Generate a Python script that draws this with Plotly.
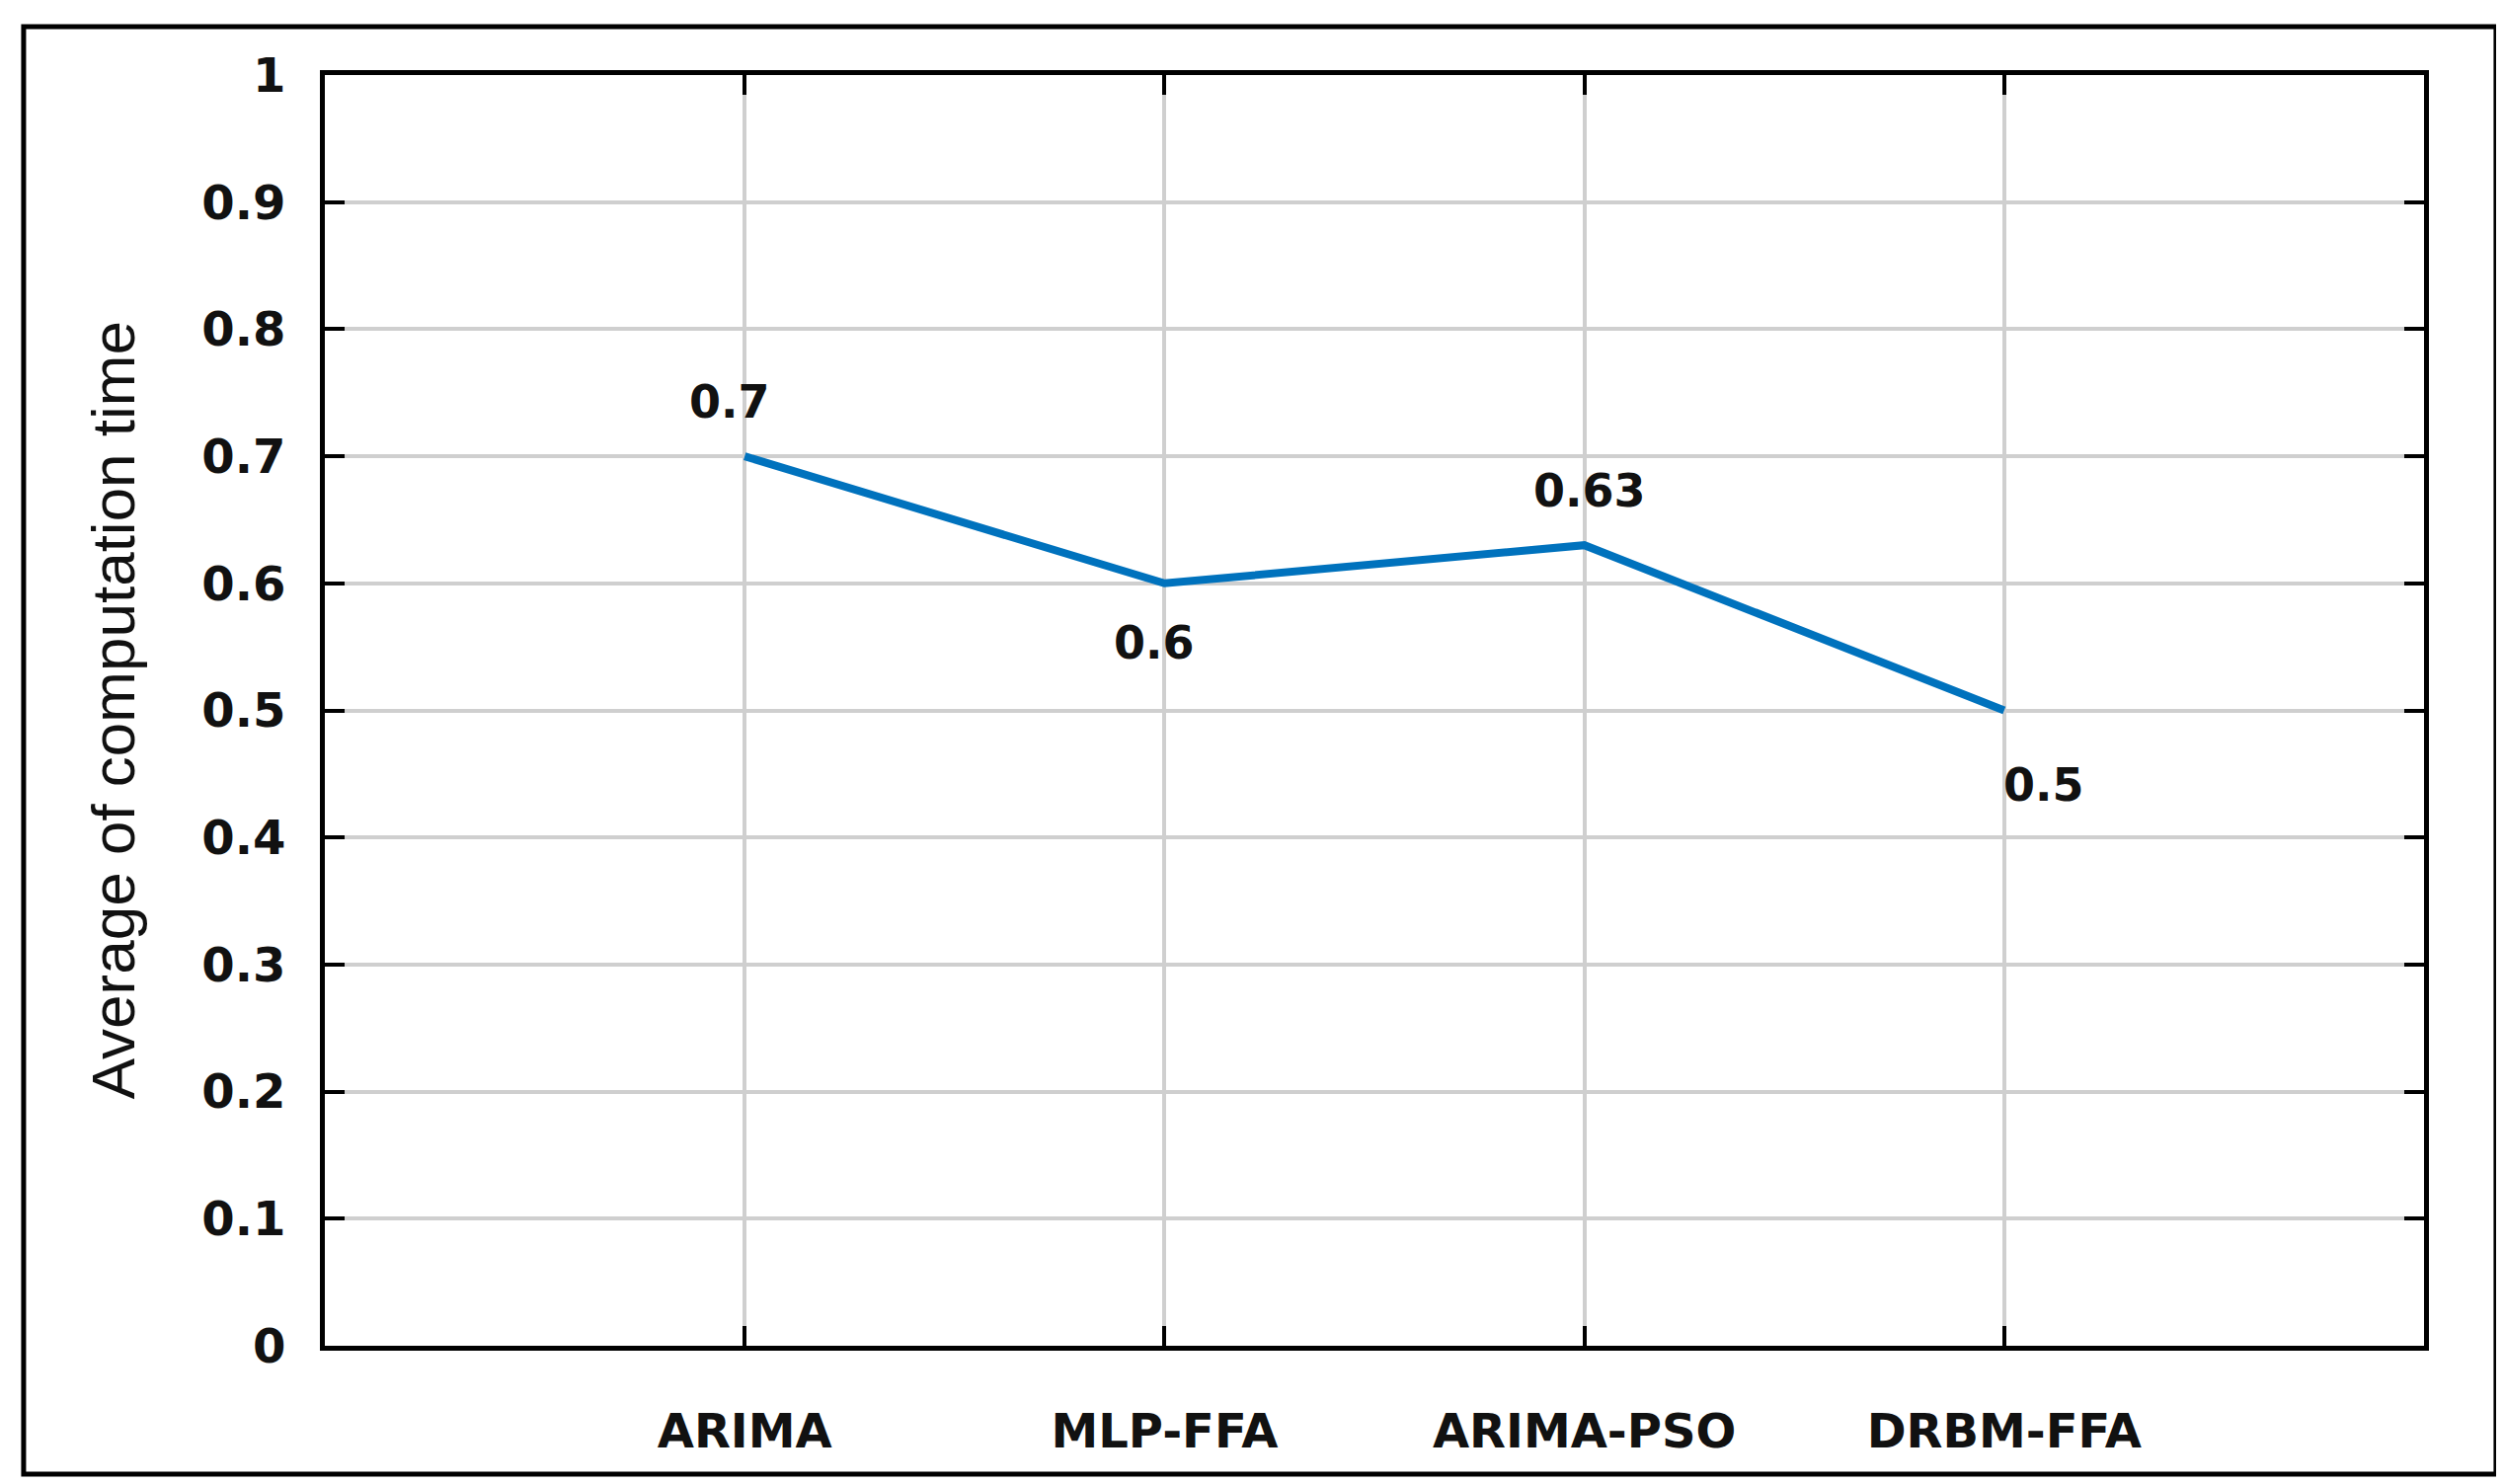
import plotly.graph_objects as go

categories = ["ARIMA", "MLP-FFA", "ARIMA-PSO", "DRBM-FFA"]
values = [0.7, 0.6, 0.63, 0.5]
labels = ["0.7", "0.6", "0.63", "0.5"]
label_shift = [55, -60, 55, -75]
label_xshift = [-15, -10, 5, 40]
yticks = [0, 0.1, 0.2, 0.3, 0.4, 0.5, 0.6, 0.7, 0.8, 0.9, 1]

FONT = "DejaVu Sans, Liberation Sans"

fig = go.Figure()
fig.add_trace(go.Scatter(
    x=list(range(len(categories))), y=values, mode="lines",
    line=dict(color="#0072BD", width=8), showlegend=False))

ann = [dict(x=i, y=v, text=f"<b>{t}</b>", showarrow=False, yshift=s, xshift=xs,
            font=dict(family=FONT, size=46, color="#111"))
       for i, (v, t, s, xs) in enumerate(zip(values, labels, label_shift, label_xshift))]
ann.append(dict(text="Average of computation time", xref="paper", yref="paper",
                x=-0.118, y=0.5, textangle=-90, showarrow=False,
                font=dict(family="Liberation Sans Narrow, Liberation Sans", size=62, color="#111")))

fig.update_layout(
    width=2536, height=1503, paper_bgcolor="white", plot_bgcolor="white",
    margin=dict(l=321, r=89, t=68, b=148),
    font=dict(family=FONT, color="#111"),
    xaxis=dict(range=[-1, 4], tickvals=list(range(len(categories))), ticktext=[f"<b>{c}</b>" for c in categories],
               tickfont=dict(size=48), showgrid=True, gridcolor="#cfcfcf", gridwidth=4,
               showline=True, linecolor="black", linewidth=5, mirror="ticks",
               ticks="inside", ticklen=20, tickwidth=4, tickcolor="black",
               ticklabelstandoff=40, zeroline=False),
    yaxis=dict(range=[0, 1], tickvals=yticks, ticktext=[f"<b>{v:g}</b>" for v in yticks],
               tickfont=dict(size=48), showgrid=True, gridcolor="#cfcfcf", gridwidth=4,
               showline=True, linecolor="black", linewidth=5, mirror="ticks",
               ticks="inside", ticklen=20, tickwidth=4, tickcolor="black",
               ticklabelstandoff=25, zeroline=False),
    annotations=ann,
    shapes=[dict(type="rect", xref="paper", yref="paper", x0=-0.1435, x1=1.0343,
                 y0=-0.101, y1=1.038, line=dict(color="black", width=5))],
)
fig.write_html("out.html")
